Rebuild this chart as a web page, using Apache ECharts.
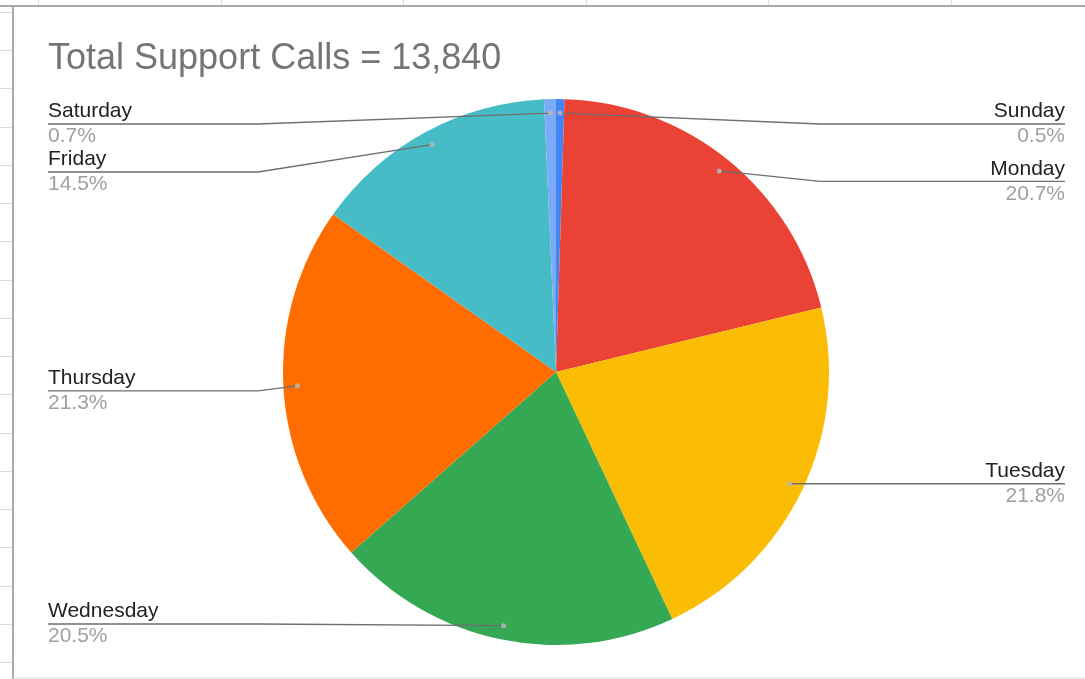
<!DOCTYPE html>
<html>
<head>
<meta charset="utf-8">
<script src="https://cdn.jsdelivr.net/npm/echarts@6/dist/echarts.min.js"></script>
<style>
html, body { margin: 0; padding: 0; background: #fff; }
#chart { width: 1085px; height: 679px; }
</style>
</head>
<body>
<div id="chart"></div>
<script>
// ---- data ----
const days = ['Sunday', 'Monday', 'Tuesday', 'Wednesday', 'Thursday', 'Friday', 'Saturday'];
const calls = [69, 2865, 3017, 2837, 2948, 2007, 97];
const sliceColors = ['#4285F4', '#EA4335', '#FBBC04', '#34A853', '#FF6D01', '#46BDC6', '#7BAAF7'];
const totalCalls = 13840;
const titleText = 'Total Support Calls = ' + totalCalls.toLocaleString('en-US');

// ---- layout constants ----
const FONT = "'Liberation Sans', Arial, Helvetica, sans-serif";
const VIEW = { left: 28, top: 100, width: 1057, height: 548 };
const PIE = { cx: 556, cy: 372, r: 273, labelR: 259 };
const BEND = { left: 298, right: 264 };

const chart = echarts.init(document.getElementById('chart'), null, { renderer: 'canvas' });

const pieData = days.map((d, i) => ({ name: d, value: calls[i] }));
const relCenter = [PIE.cx - VIEW.left, PIE.cy - VIEW.top];

// spreadsheet background decoration
const deco = [];
[38, 221, 403, 586, 768, 951].forEach(x => deco.push({
  type: 'line', shape: { x1: x + 0.5, y1: 0, x2: x + 0.5, y2: 6 },
  style: { stroke: '#d9d9d9', lineWidth: 1 }, silent: true
}));
for (let k = 0; k < 18; k++) {
  const y = Math.round(12 + 38.24 * k) + 0.5;
  deco.push({ type: 'line', shape: { x1: 0, y1: y, x2: 12, y2: y },
    style: { stroke: '#dcdcdc', lineWidth: 1 }, silent: true });
}
deco.push({ type: 'line', shape: { x1: 0, y1: 6, x2: 1085, y2: 6 },
  style: { stroke: '#a8a8a8', lineWidth: 2 }, silent: true });
deco.push({ type: 'line', shape: { x1: 13, y1: 6, x2: 13, y2: 679 },
  style: { stroke: '#a8a8a8', lineWidth: 2 }, silent: true });
deco.push({ type: 'line', shape: { x1: 13, y1: 678, x2: 1085, y2: 678 },
  style: { stroke: '#e0e0e0', lineWidth: 1 }, silent: true });

const common = {
  type: 'pie',
  left: VIEW.left, top: VIEW.top, width: VIEW.width, height: VIEW.height,
  center: relCenter,
  startAngle: 90,
  clockwise: true,
  percentPrecision: 1,
  data: pieData,
  emphasis: { disabled: true },
  animation: false
};

const option = {
  backgroundColor: '#ffffff',
  color: sliceColors,
  animation: false,
  title: {
    text: titleText,
    left: 48, top: 41, padding: 0,
    textStyle: { fontFamily: FONT, fontSize: 36, fontWeight: 'normal', color: '#757575' }
  },
  graphic: deco,
  series: [
    Object.assign({}, common, {
      name: 'calls',
      z: 2,
      radius: PIE.r,
      label: { show: false },
      labelLine: { show: false },
      itemStyle: { borderWidth: 0 }
    }),
    Object.assign({}, common, {
      name: 'labels',
      z: 5,
      silent: true,
      radius: PIE.labelR,
      itemStyle: { color: 'rgba(0,0,0,0)' },
      avoidLabelOverlap: true,
      label: {
        show: true,
        position: 'outside',
        alignTo: 'edge',
        edgeDistance: 20,
        overflow: 'none',
        lineHeight: 23,
        formatter: '{n|{b}}\n{p|{d}%}',
        rich: {
          n: { fontFamily: FONT, fontSize: 21, lineHeight: 23, color: '#222222', verticalAlign: 'top' },
          p: { fontFamily: FONT, fontSize: 21, lineHeight: 23, color: '#a0a0a0', verticalAlign: 'bottom' }
        }
      },
      labelLine: {
        show: true, length: 0, length2: 0, smooth: false,
        lineStyle: { color: '#6e6e6e', width: 1.3 }
      },
      labelLayout: function (p) {
        const pts = p.labelLinePoints;
        if (!pts) return {};
        const rect = p.labelRect;
        const isLeft = rect.x + rect.width / 2 < PIE.cx;
        const y = pts[2][1];
        pts[1][0] = isLeft ? Math.min(pts[0][0], PIE.cx - BEND.left) : Math.max(pts[0][0], PIE.cx + BEND.right);
        pts[1][1] = y;
        pts[2][0] = isLeft ? rect.x : rect.x + rect.width;
        return { labelLinePoints: pts };
      }
    }),
    Object.assign({}, common, {
      name: 'dots',
      z: 6,
      silent: true,
      radius: [PIE.labelR - 4, PIE.labelR - 2],
      itemStyle: { color: 'rgba(0,0,0,0)' },
      label: {
        show: true,
        position: 'inside',
        formatter: ' ',
        fontSize: 1,
        lineHeight: 5,
        width: 5,
        height: 5,
        padding: 0,
        borderRadius: 2.5,
        backgroundColor: 'rgba(185,185,185,0.85)'
      },
      labelLine: { show: false }
    })
  ]
};

chart.setOption(option);
</script>
</body>
</html>
